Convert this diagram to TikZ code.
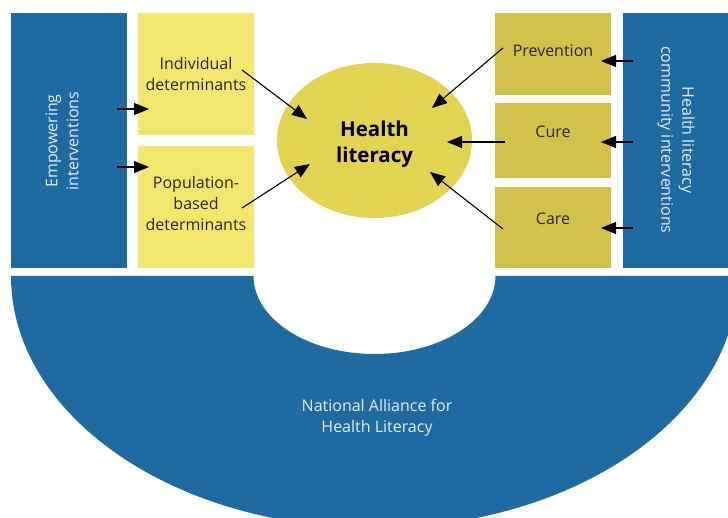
\documentclass[tikz,border=0pt]{standalone}
\usepackage{fontspec}
\setmainfont{Open Sans}
\usetikzlibrary{arrows.meta,shapes.geometric}
\definecolor{nblue}{RGB}{31,107,161}
\definecolor{lyellow}{RGB}{243,230,110}
\definecolor{olivebox}{RGB}{210,194,76}
\definecolor{ellcol}{RGB}{226,211,82}
\definecolor{paletext}{RGB}{226,236,246}
\definecolor{darktext}{RGB}{40,40,40}
\begin{document}
\begin{tikzpicture}[x=1pt,y=1pt,
  blk/.style={inner sep=0pt, outer sep=0pt},
  lbl/.style={align=center, inner sep=0pt, font=\fontsize{16}{21}\selectfont},
  arr/.style={line width=1.1pt, -{Triangle[length=15pt,width=12pt]}}]
\useasboundingbox (0,0) rectangle (728,517);
\begin{scope}
\clip (0,0) rectangle (728,517);
% bottom arch
\fill[nblue] (11,241) arc[start angle=180, end angle=360, x radius=363.5, y radius=252]
  -- (495.5,241) arc[start angle=0, end angle=-180, x radius=121, y radius=78] -- cycle;
% blocks
\node[blk, fill=nblue, minimum width=116pt, minimum height=255pt] (emp) at (69,376.5) {};
\node[blk, fill=nblue, minimum width=110pt, minimum height=255pt] (comm) at (678,376.5) {};
\node[blk, fill=lyellow, minimum width=116pt, minimum height=122pt] (ind) at (196,443) {};
\node[blk, fill=lyellow, minimum width=116pt, minimum height=122pt] (pop) at (196,310) {};
\node[blk, fill=olivebox, minimum width=116pt, minimum height=82pt] (prev) at (553,463) {};
\node[blk, fill=olivebox, minimum width=116pt, minimum height=75pt] (cure) at (553,376.5) {};
\node[blk, fill=olivebox, minimum width=116pt, minimum height=81pt] (care) at (553,289.5) {};
\node[ellipse, fill=ellcol, minimum width=195pt, minimum height=155pt, inner sep=0pt] (hl) at (374.5,376.5) {};
\end{scope}
% labels
\node[lbl, text=paletext, rotate=90] (empt) at (62,376) {Empowering\\interventions};
\node[lbl, text=paletext, rotate=-90] (commt) at (676,377) {Health literacy\\community interventions};
\node[lbl, text=darktext] (indt) at (196,443) {Individual\\determinants};
\node[lbl, text=darktext] (popt) at (196,313) {Population-\\based\\determinants};
\node[lbl, text=darktext] (prevt) at (553,466) {Prevention};
\node[lbl, text=darktext] (curet) at (553,385) {Cure};
\node[lbl, text=darktext] (caret) at (553,298) {Care};
\node[lbl, text=black, font=\fontsize{20.5}{26}\selectfont\bfseries] (hlt) at (374.5,373) {Health\\literacy};
\node[lbl, text=paletext] (natt) at (377,99) {National Alliance for\\Health Literacy};
% arrow endpoints
\coordinate (e1) at (117,408); \coordinate (i1) at (149,408);
\coordinate (e2) at (117,350); \coordinate (p1) at (149,350);
\coordinate (c1) at (633,456); \coordinate (v1) at (601,456);
\coordinate (c2) at (633,375); \coordinate (u1) at (601,375);
\coordinate (c3) at (633,289); \coordinate (a1) at (601,289);
\coordinate (i2) at (242,447); \coordinate (h1) at (307,398);
\coordinate (p2) at (242,309); \coordinate (h2) at (310,353);
\coordinate (v2) at (503,469); \coordinate (h3) at (432,409);
\coordinate (u2) at (505,375); \coordinate (h4) at (447,375);
\coordinate (a2) at (503,288); \coordinate (h5) at (430,345);
\draw[arr] (e1) -- (i1);
\draw[arr] (e2) -- (p1);
\draw[arr] (c1) -- (v1);
\draw[arr] (c2) -- (u1);
\draw[arr] (c3) -- (a1);
\draw[arr] (i2) -- (h1);
\draw[arr] (p2) -- (h2);
\draw[arr] (v2) -- (h3);
\draw[arr] (u2) -- (h4);
\draw[arr] (a2) -- (h5);
\end{tikzpicture}
\end{document}
